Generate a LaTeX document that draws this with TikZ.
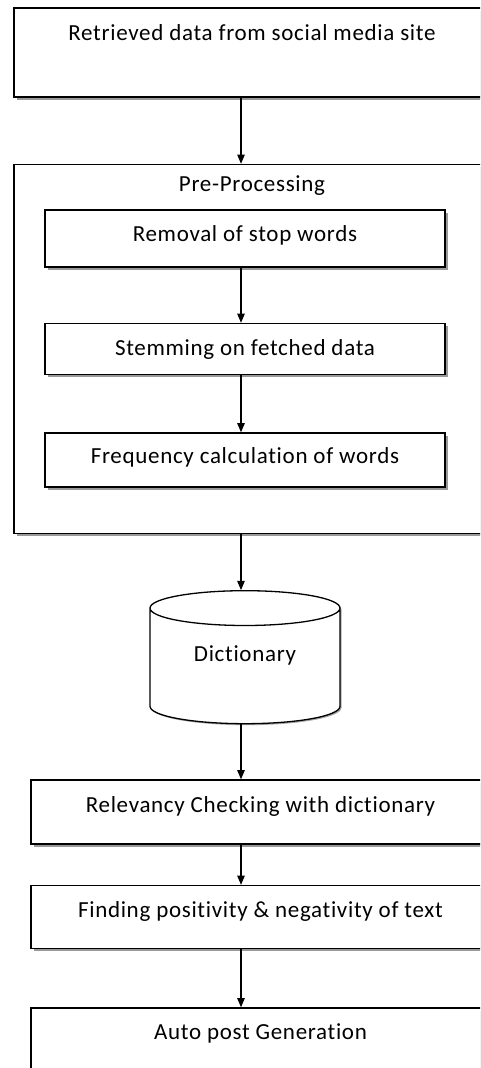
\documentclass[tikz,border=0pt]{standalone}
\usepackage{fontspec}
\setmainfont[LetterSpace=3,Ligatures=NoCommon]{Carlito}
\usetikzlibrary{arrows,positioning,shapes.geometric,shadows}

\begin{document}
\begin{tikzpicture}[x=1pt,y=-1pt,->,>=triangle 45,line width=1.1pt,
    font=\fontsize{23}{26}\selectfont]
  \tikzstyle{stage}=[rectangle,draw=black,fill=white,line width=1.5pt,text depth=12pt,
    drop shadow={shadow xshift=2.5pt,shadow yshift=-2.5pt,fill=black!40,opacity=1}]
  \tikzstyle{wide}=[stage,minimum width=459pt,text depth=14pt]
  \tikzstyle{inner}=[stage,minimum width=400pt,text depth=8pt]

  \useasboundingbox (0,0) rectangle (480,1068);
  \clip (0,0) rectangle (480,1068);
  \coordinate (spine) at (241,0);

  \node[stage,minimum width=476pt,minimum height=89pt,text depth=40pt] (retr) at (252,52.5) {Retrieved data from social media site};
  \node[stage,minimum width=476pt,minimum height=369pt] (pre) [below=66pt of retr] {};
  \node[anchor=north] (prelbl) [below=8pt of pre.north] {Pre-Processing};

  \node[inner,minimum height=57pt,text depth=10pt] (rem) at (245,238.5) {Removal of stop words};
  \node[inner,minimum height=51pt,text depth=2pt] (stem) [below=55pt of rem] {Stemming on fetched data};
  \node[inner,minimum height=54pt] (freq) [below=57pt of stem] {Frequency calculation of words};

  \node[cylinder,shape border rotate=90,draw=black,fill=white,line width=1.3pt,aspect=0.32,
    minimum width=190pt,minimum height=133pt,text depth=30pt,
    drop shadow={shadow xshift=1.5pt,shadow yshift=-1.5pt,fill=black!35,opacity=1}]
    (dict) at (245,668.5) {Dictionary};

  \node[wide,minimum height=64pt] (rel) at (260.5,812) {Relevancy Checking with dictionary};
  \node[wide,minimum height=63pt] (pos) [below=40pt of rel] {Finding positivity \& negativity of text};
  \node[wide,minimum height=62pt] (auto) [below=58pt of pos] {Auto post Generation};

  \draw (retr.south -| spine) -- (pre.north -| spine);
  \draw (rem.south -| spine) -- (stem.north -| spine);
  \draw (stem.south -| spine) -- (freq.north -| spine);
  \draw (pre.south -| spine) -- (dict.north -| spine);
  \draw (dict.south -| spine) -- (rel.north -| spine);
  \draw (rel.south -| spine) -- (pos.north -| spine);
  \draw (pos.south -| spine) -- (auto.north -| spine);
\end{tikzpicture}
\end{document}
